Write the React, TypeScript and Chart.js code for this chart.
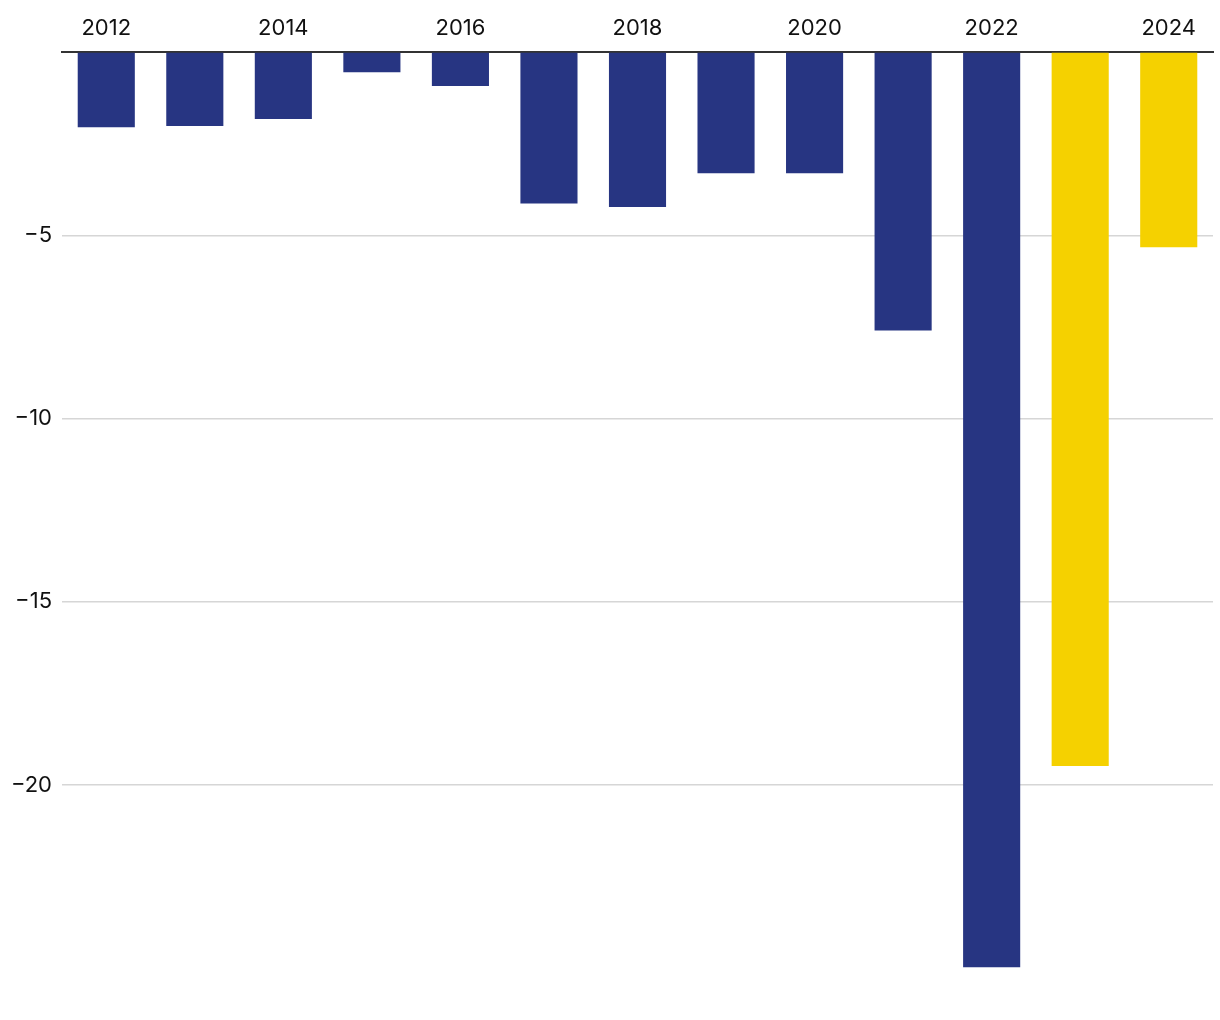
import React, { useEffect, useRef } from "react";
import { Chart, registerables } from "chart.js";

Chart.register(...registerables);

const years = ["2012","2013","2014","2015","2016","2017","2018","2019","2020","2021","2022","2023","2024"];
const values = [-2.05, -2.02, -1.83, -0.55, -0.93, -4.13, -4.23, -3.31, -3.31, -7.6, -24.97, -19.48, -5.33];
const barColors = ["#273582","#273582","#273582","#273582","#273582","#273582","#273582","#273582","#273582","#273582","#273582","#f5d100","#f5d100"];
const yTicks = [-20, -15, -10, -5, 0];

export default function App() {
  const ref = useRef<HTMLCanvasElement | null>(null);
  useEffect(() => {
    if (!ref.current) return;
    const chart = new Chart(ref.current, {
      type: "bar",
      data: {
        labels: years,
        datasets: [{ data: values, backgroundColor: barColors, barPercentage: 0.645, categoryPercentage: 1 }],
      },
      options: {
        animation: false,
        responsive: false,
        maintainAspectRatio: false,
        layout: { padding: { left: 0, right: 7, top: 0, bottom: 15 } },
        plugins: { legend: { display: false }, tooltip: { enabled: false } },
        scales: {
          x: {
            position: "top",
            grid: { display: false, drawTicks: false },
            border: { display: true, color: "#333333", width: 2 },
            ticks: {
              autoSkip: false,
              maxRotation: 0,
              padding: 10,
              color: "#111111",
              font: { family: "Inter", size: 22 },
              callback: (_v: any, i: number) => (i % 2 === 0 ? years[i] : ""),
            },
            afterFit: (s: any) => { s.height = 52; },
          },
          y: {
            min: -26,
            max: 0,
            afterBuildTicks: (s: any) => { s.ticks = yTicks.map((v) => ({ value: v })); },
            grid: { color: (c: any) => (c.tick && c.tick.value === 0 ? "rgba(0,0,0,0)" : "#d6d6d6"), lineWidth: 1.5, drawTicks: false },
            border: { display: false },
            ticks: {
              padding: 10,
              color: "#111111",
              font: { family: "Inter", size: 22 },
              callback: (v: any) => (v === 0 ? "" : String(v).replace("-", "\u2212")),
            },
            afterFit: (s: any) => { s.width = 62; s.paddingTop = 0; s.paddingBottom = 0; },
          },
        },
      },
    });
    return () => chart.destroy();
  }, []);
  return (
    <div style={{ position: "fixed", left: 0, top: 0, width: 1220, height: 1020, background: "#fff" }}>
      <canvas ref={ref} width={1220} height={1020} style={{ width: 1220, height: 1020 }} />
    </div>
  );
}
